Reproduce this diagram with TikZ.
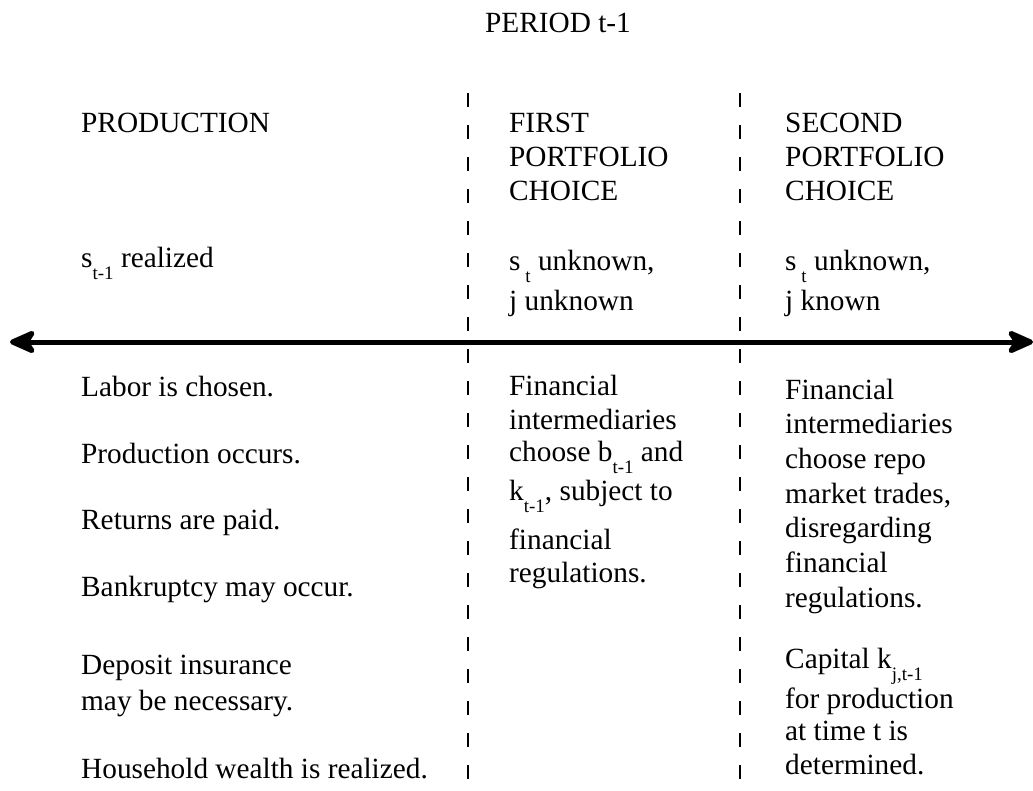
\documentclass[tikz,border=0pt]{standalone}
\usepackage{fontspec}
\setmainfont{Liberation Serif}
\usetikzlibrary{arrows.meta}
\newcommand{\lowsub}[1]{\raisebox{-12pt}{\fontsize{19}{19}\selectfont #1}}
\tikzset{
  txt/.style={anchor=base west, inner sep=0pt, font=\fontsize{29.3}{34}\selectfont},
  divider/.style={line width=1.6pt, dash pattern=on 14pt off 18pt},
  timeline/.style={line width=5pt, {Stealth[length=32pt,width=28pt,inset=9pt,round]}-{Stealth[length=32pt,width=28pt,inset=9pt,round]}}
}
\begin{document}
\begin{tikzpicture}[x=1pt,y=-1pt]
\useasboundingbox (0,0) rectangle (1033,790);
% title
\node[txt] (title) at (485,32) {PERIOD t-1};
% dividers
\coordinate (d1t) at (468,93);
\coordinate (d1b) at (468,790);
\coordinate (d2t) at (740,93);
\coordinate (d2b) at (740,790);
\draw[divider] (d1t) -- (d1b);
\draw[divider] (d2t) -- (d2b);
% time line
\coordinate (tl) at (10,342);
\coordinate (tr) at (1033,342);
\draw[timeline] (tl) -- (tr);
% left column
\node[txt] (prod) at (81,132) {PRODUCTION};
\node[txt] (sreal) at (81,267) {s\lowsub{t-1} realized};
\node[txt] (l1) at (81,396) {Labor is chosen.};
\node[txt] (l2) at (81,463) {Production occurs.};
\node[txt] (l3) at (81,529) {Returns are paid.};
\node[txt] (l4) at (81,596) {Bankruptcy may occur.};
\node[txt] (l5) at (81,674) {Deposit insurance};
\node[txt] (l6) at (81,710) {may be necessary.};
\node[txt] (l7) at (81,778) {Household wealth is realized.};
% middle column
\node[txt] (m1) at (509,132) {FIRST};
\node[txt] (m2) at (509,166) {PORTFOLIO};
\node[txt] (m3) at (509,200) {CHOICE};
\node[txt] (m4) at (509,270) {s\,\lowsub{t} unknown,};
\node[txt] (m5) at (509,310) {j unknown};
\node[txt] (m6) at (509,395) {Financial};
\node[txt] (m7) at (509,429) {intermediaries};
\node[txt] (m8) at (509,461) {choose b\lowsub{t-1} and};
\node[txt] (m9) at (509,500) {k\lowsub{t-1}, subject to};
\node[txt] (m10) at (509,549) {financial};
\node[txt] (m11) at (509,582) {regulations.};
% right column
\node[txt] (r1) at (785,132) {SECOND};
\node[txt] (r2) at (785,166) {PORTFOLIO};
\node[txt] (r3) at (785,200) {CHOICE};
\node[txt] (r4) at (785,270) {s\,\lowsub{t} unknown,};
\node[txt] (r5) at (785,310) {j known};
\node[txt] (r6) at (785,399) {Financial};
\node[txt] (r7) at (785,433) {intermediaries};
\node[txt] (r8) at (785,468) {choose repo};
\node[txt] (r9) at (785,503) {market trades,};
\node[txt] (r10) at (785,537) {disregarding};
\node[txt] (r11) at (785,572) {financial};
\node[txt] (r12) at (785,607) {regulations.};
\node[txt] (r13) at (785,668) {Capital k\lowsub{j,t-1}};
\node[txt] (r14) at (785,708) {for production};
\node[txt] (r15) at (785,740) {at time t is};
\node[txt] (r16) at (785,774) {determined.};
\end{tikzpicture}
\end{document}
